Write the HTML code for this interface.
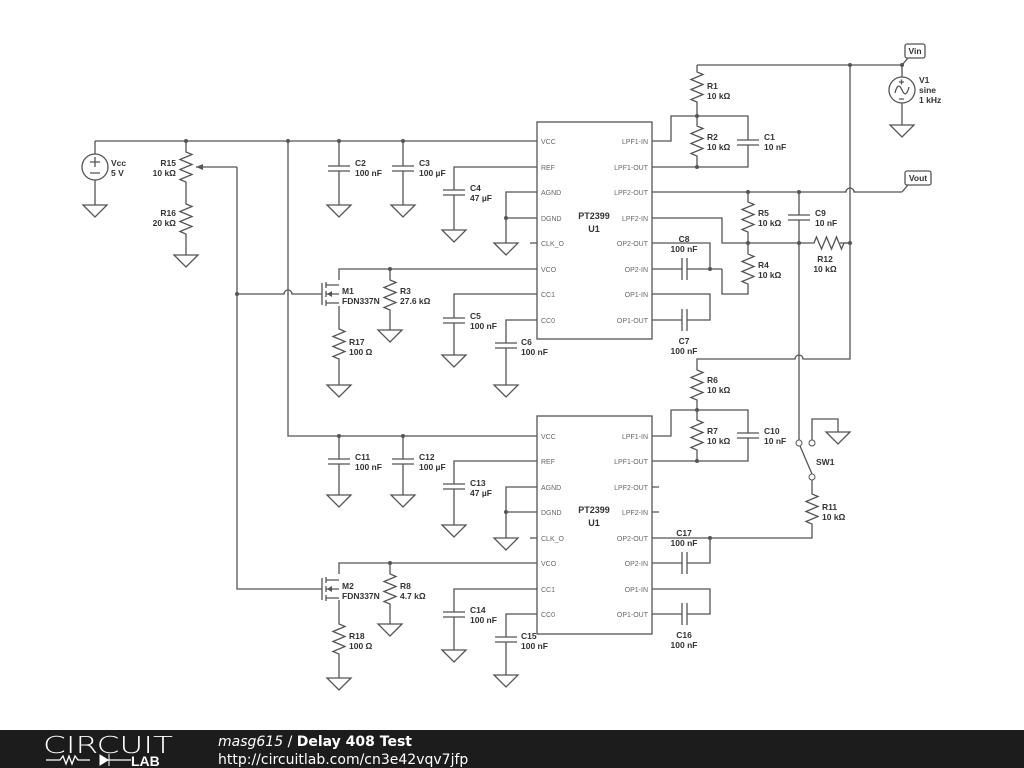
<!DOCTYPE html>
<html><head><meta charset="utf-8"><style>
body{margin:0;background:#fff;width:1024px;height:768px;overflow:hidden}
svg{display:block}
.w{fill:none;stroke:#555;stroke-width:1.3}
.l{font-family:"Liberation Sans",sans-serif;font-size:8.5px;font-weight:bold;fill:#333}
.p{font-family:"Liberation Sans",sans-serif;font-size:7px;fill:#666}
.g{fill:#fff;stroke:#555;stroke-width:1.3}
.d{fill:#555}
</style></head><body>
<svg width="1024" height="768" viewBox="0 0 1024 768">
<defs>
<path id="rv" d="M0,0 v4 l6,2.5 l-12,5 l12,5 l-12,5 l12,5 l-12,5 l6,2.5 v4" class="w"/>
<path id="gnd" d="M-12,0 h24 l-12,12 z" class="g"/>
<path id="ch" d="M-11,0 h22 M-11,5 h22" class="w"/>
<path id="cv" d="M0,-11 v22 M5,-11 v22" class="w"/>
<g id="fet">
<path class="w" d="M-17,-11 v22 M-13,-12 v6 M-13,-3 v6 M-13,6 v6 M-13,-9 H0 M-13,0 H0 M-13,9 H0"/>
<path class="d" d="M-12,0 l5,-3 v6 z"/>
</g>
</defs>
<g class="w">
<!-- top-left supply -->
<path d="M95,141 H537 M95,141 V154 M95,180 V205"/>
<circle cx="95" cy="167" r="13" fill="#fff"/>
<path d="M90,162 h10 M95,157 v10 M90,173 h10"/>
<path d="M186,141 V148 M186,186 V200 M186,238 V255"/>
<path d="M237,167 H196 M237,167 V589 H322"/>
<path d="M237,294 H284 a4,4 0 0 1 8,0 H322"/>
<path d="M288,141 V436 H537"/>
<path d="M339,141 V166 M339,171 V205 M403,141 V166 M403,171 V205"/>
<path d="M537,167 H454 V190 M454,195 V230"/>
<path d="M537,192 H506 V243 M537,218 H506 M530,243 H537"/>
<path d="M537,269 H339 V280 M339,306 V325 M339,363 V385"/>
<path d="M390,269 V276 M390,314 V330"/>
<path d="M537,294 H454 V318 M454,323 V355"/>
<path d="M537,320 H506 V343 M506,348 V385"/>
<rect x="537" y="122" width="115" height="217"/>
<!-- right U1 -->
<path d="M652,141 H671 V116 H748 V140 M748,145 V167 H652"/>
<path d="M697,65 V68 M697,106 V116 M697,116 V122 M697,160 V167"/>
<path d="M697,65 H902 M902,65 V77 M902,103 V125"/>
<circle cx="902" cy="90" r="13" fill="#fff"/>
<path d="M895,93 q3,-12 7,-3 q4,9 7,-3 M899,82 h5 M901.5,79.5 v5 M899,99 h5"/>
<path d="M652,192 H846 a4,4 0 0 1 8,0 H902"/>
<path d="M748,192 V198 M748,236 V250 M748,288 V294 H722 V269"/>
<path d="M652,269 H682 M687,269 H722 M652,243 H710 V269"/>
<path d="M652,218 H722 V243 H810 M840,243 H850"/>
<path d="M799,192 V215 M799,220 V243"/>
<path d="M850,65 V359 H803 a4,4 0 0 0 -8,0 H697 V366"/>
<path d="M799,243 V440"/>
<path d="M652,294 H710 V320 H687 M682,320 H652"/>
<!-- lower right -->
<path d="M697,404 V410 M652,436 H671 V410 H748 V433 M748,438 V461 H652 M697,410 V416 M697,454 V461"/>
<path d="M652,487 H659 M652,512 H659"/>
<path d="M812,440 V419 H838 V432 M812,474 L800,446 M812,480 V490 M812,528 V538 H652"/>
<path d="M652,563 H682 M687,563 H710 V538 M652,589 H710 V614 H687 M682,614 H652"/>
<rect x="537" y="416" width="115" height="218"/>
<!-- lower left -->
<path d="M339,436 V459 M339,464 V495 M403,436 V459 M403,464 V495"/>
<path d="M537,461 H454 V484 M454,489 V525"/>
<path d="M537,487 H506 V538 M537,512 H506 M530,538 H537"/>
<path d="M537,563 H339 V574 M339,600 V620 M339,658 V678"/>
<path d="M390,563 V570 M390,608 V624"/>
<path d="M537,589 H454 V612 M454,617 V650"/>
<path d="M537,614 H506 V637 M506,642 V675"/>
<!-- vin/vout flags -->
<path d="M902,65 L908,58 M902,192 L908,185"/>
<rect x="905" y="44" width="20" height="14" rx="2"/>
<rect x="905" y="171" width="26" height="14" rx="2"/>
</g>
<circle cx="799" cy="443" r="3" fill="#fff" stroke="#555"/>
<circle cx="812" cy="443" r="3" fill="#fff" stroke="#555"/>
<circle cx="812" cy="477" r="3" fill="#fff" stroke="#555"/>
<path class="d" d="M196,167 l7,-3 v6 z"/>
<!-- resistors -->
<use href="#rv" x="186" y="148"/><use href="#rv" x="186" y="200"/>
<use href="#rv" x="339" y="325"/><use href="#rv" x="390" y="276"/>
<use href="#rv" x="697" y="68"/><use href="#rv" x="697" y="122"/>
<use href="#rv" x="748" y="198"/><use href="#rv" x="748" y="250"/>
<use href="#rv" x="697" y="366"/><use href="#rv" x="697" y="416"/>
<use href="#rv" x="812" y="490"/><use href="#rv" x="339" y="620"/>
<use href="#rv" x="390" y="570"/>
<use href="#rv" transform="translate(810,243) rotate(-90)"/>
<!-- caps -->
<use href="#ch" x="339" y="166"/><use href="#ch" x="403" y="166"/>
<use href="#ch" x="454" y="190"/><use href="#ch" x="454" y="318"/>
<use href="#ch" x="506" y="343"/><use href="#ch" x="748" y="140"/>
<use href="#ch" x="799" y="215"/><use href="#ch" x="748" y="433"/>
<use href="#ch" x="339" y="459"/><use href="#ch" x="403" y="459"/>
<use href="#ch" x="454" y="484"/><use href="#ch" x="454" y="612"/>
<use href="#ch" x="506" y="637"/>
<use href="#cv" x="682" y="269"/><use href="#cv" x="682" y="320"/>
<use href="#cv" x="682" y="563"/><use href="#cv" x="682" y="614"/>
<!-- fets -->
<use href="#fet" x="339" y="294"/><use href="#fet" x="339" y="589"/>
<!-- grounds -->
<use href="#gnd" x="95" y="205"/><use href="#gnd" x="186" y="255"/>
<use href="#gnd" x="339" y="205"/><use href="#gnd" x="403" y="205"/>
<use href="#gnd" x="454" y="230"/><use href="#gnd" x="506" y="243"/>
<use href="#gnd" x="339" y="385"/><use href="#gnd" x="390" y="330"/>
<use href="#gnd" x="454" y="355"/><use href="#gnd" x="506" y="385"/>
<use href="#gnd" x="902" y="125"/><use href="#gnd" x="838" y="432"/>
<use href="#gnd" x="339" y="495"/><use href="#gnd" x="403" y="495"/>
<use href="#gnd" x="454" y="525"/><use href="#gnd" x="506" y="538"/>
<use href="#gnd" x="339" y="678"/><use href="#gnd" x="390" y="624"/>
<use href="#gnd" x="454" y="650"/><use href="#gnd" x="506" y="675"/>
<!-- dots -->
<g class="d">
<circle cx="186" cy="141" r="2"/><circle cx="288" cy="141" r="2"/><circle cx="339" cy="141" r="2"/><circle cx="403" cy="141" r="2"/>
<circle cx="237" cy="294" r="2"/><circle cx="506" cy="218" r="2"/><circle cx="390" cy="269" r="2"/>
<circle cx="697" cy="116" r="2"/><circle cx="697" cy="167" r="2"/><circle cx="850" cy="65" r="2"/><circle cx="902" cy="65" r="2"/>
<circle cx="748" cy="192" r="2"/><circle cx="799" cy="192" r="2"/><circle cx="748" cy="243" r="2"/><circle cx="799" cy="243" r="2"/><circle cx="850" cy="243" r="2"/>
<circle cx="710" cy="269" r="2"/><circle cx="697" cy="410" r="2"/><circle cx="697" cy="461" r="2"/><circle cx="710" cy="538" r="2"/>
<circle cx="339" cy="436" r="2"/><circle cx="403" cy="436" r="2"/><circle cx="506" cy="512" r="2"/><circle cx="390" cy="563" r="2"/>
</g>
<!-- labels -->
<g class="l">
<text x="111" y="166">Vcc</text><text x="111" y="176">5 V</text>
<text x="176" y="166" text-anchor="end">R15</text><text x="176" y="176" text-anchor="end">10 kΩ</text>
<text x="176" y="216" text-anchor="end">R16</text><text x="176" y="226" text-anchor="end">20 kΩ</text>
<text x="355" y="166">C2</text><text x="355" y="176">100 nF</text>
<text x="419" y="166">C3</text><text x="419" y="176">100 µF</text>
<text x="470" y="191">C4</text><text x="470" y="201">47 µF</text>
<text x="342" y="294">M1</text><text x="342" y="304">FDN337N</text>
<text x="400" y="294">R3</text><text x="400" y="304">27.6 kΩ</text>
<text x="349" y="345">R17</text><text x="349" y="355">100 Ω</text>
<text x="470" y="319">C5</text><text x="470" y="329">100 nF</text>
<text x="521" y="345">C6</text><text x="521" y="355">100 nF</text>
<text x="594" y="219" text-anchor="middle" font-size="9">PT2399</text><text x="594" y="232" text-anchor="middle" font-size="9">U1</text>
<text x="707" y="89">R1</text><text x="707" y="99">10 kΩ</text>
<text x="707" y="140">R2</text><text x="707" y="150">10 kΩ</text>
<text x="764" y="140">C1</text><text x="764" y="150">10 nF</text>
<text x="919" y="83">V1</text><text x="919" y="93">sine</text><text x="919" y="103">1 kHz</text>
<text x="915" y="54" text-anchor="middle">Vin</text><text x="918" y="181" text-anchor="middle">Vout</text>
<text x="758" y="216">R5</text><text x="758" y="226">10 kΩ</text>
<text x="758" y="268">R4</text><text x="758" y="278">10 kΩ</text>
<text x="815" y="216">C9</text><text x="815" y="226">10 nF</text>
<text x="825" y="262" text-anchor="middle">R12</text><text x="825" y="272" text-anchor="middle">10 kΩ</text>
<text x="684" y="242" text-anchor="middle">C8</text><text x="684" y="252" text-anchor="middle">100 nF</text>
<text x="684" y="344" text-anchor="middle">C7</text><text x="684" y="354" text-anchor="middle">100 nF</text>
<text x="707" y="383">R6</text><text x="707" y="393">10 kΩ</text>
<text x="707" y="434">R7</text><text x="707" y="444">10 kΩ</text>
<text x="764" y="434">C10</text><text x="764" y="444">10 nF</text>
<text x="816" y="465">SW1</text>
<text x="822" y="510">R11</text><text x="822" y="520">10 kΩ</text>
<text x="684" y="536" text-anchor="middle">C17</text><text x="684" y="546" text-anchor="middle">100 nF</text>
<text x="684" y="638" text-anchor="middle">C16</text><text x="684" y="648" text-anchor="middle">100 nF</text>
<text x="594" y="513" text-anchor="middle" font-size="9">PT2399</text><text x="594" y="526" text-anchor="middle" font-size="9">U1</text>
<text x="355" y="460">C11</text><text x="355" y="470">100 nF</text>
<text x="419" y="460">C12</text><text x="419" y="470">100 µF</text>
<text x="470" y="486">C13</text><text x="470" y="496">47 µF</text>
<text x="342" y="589">M2</text><text x="342" y="599">FDN337N</text>
<text x="400" y="589">R8</text><text x="400" y="599">4.7 kΩ</text>
<text x="349" y="639">R18</text><text x="349" y="649">100 Ω</text>
<text x="470" y="613">C14</text><text x="470" y="623">100 nF</text>
<text x="521" y="639">C15</text><text x="521" y="649">100 nF</text>
</g>
<g class="p">
<text x="541" y="144">VCC</text><text x="541" y="170">REF</text><text x="541" y="195">AGND</text><text x="541" y="221">DGND</text><text x="541" y="246">CLK_O</text><text x="541" y="272">VCO</text><text x="541" y="297">CC1</text><text x="541" y="323">CC0</text>
<g text-anchor="end"><text x="648" y="144">LPF1-IN</text><text x="648" y="170">LPF1-OUT</text><text x="648" y="195">LPF2-OUT</text><text x="648" y="221">LPF2-IN</text><text x="648" y="246">OP2-OUT</text><text x="648" y="272">OP2-IN</text><text x="648" y="297">OP1-IN</text><text x="648" y="323">OP1-OUT</text></g>
<text x="541" y="439">VCC</text><text x="541" y="464">REF</text><text x="541" y="490">AGND</text><text x="541" y="515">DGND</text><text x="541" y="541">CLK_O</text><text x="541" y="566">VCO</text><text x="541" y="592">CC1</text><text x="541" y="617">CC0</text>
<g text-anchor="end"><text x="648" y="439">LPF1-IN</text><text x="648" y="464">LPF1-OUT</text><text x="648" y="490">LPF2-OUT</text><text x="648" y="515">LPF2-IN</text><text x="648" y="541">OP2-OUT</text><text x="648" y="566">OP2-IN</text><text x="648" y="592">OP1-IN</text><text x="648" y="617">OP1-OUT</text></g>
</g>
<!-- footer -->
<rect x="0" y="730" width="1024" height="38" fill="#1c1c1c"/>
<text x="43" y="753" font-family="DejaVu Sans,sans-serif" font-size="23" font-weight="200" fill="#fff" textLength="130" lengthAdjust="spacingAndGlyphs">CIRCUIT</text>
<path d="M46,760 h14 l3,-4 l3,8 l3,-8 l3,8 l3,-8 l3,4 h12 M101,760 h30" stroke="#fff" stroke-width="1.3" fill="none"/>
<path d="M100,755 l8,5 l-8,5 z M109,754 v12" fill="#fff" stroke="#fff"/>
<text x="131" y="766" font-family="Liberation Sans,sans-serif" font-size="14" font-weight="bold" fill="#fff">LAB</text>
<text x="218" y="746" font-family="DejaVu Sans,sans-serif" font-size="14" fill="#fff"><tspan font-style="italic">masg615</tspan> / <tspan font-weight="bold">Delay 408 Test</tspan></text>
<text x="218" y="764" font-family="DejaVu Sans,sans-serif" font-size="14" fill="#fff">http://circuitlab.com/cn3e42vqv7jfp</text>
</svg>
</body></html>
